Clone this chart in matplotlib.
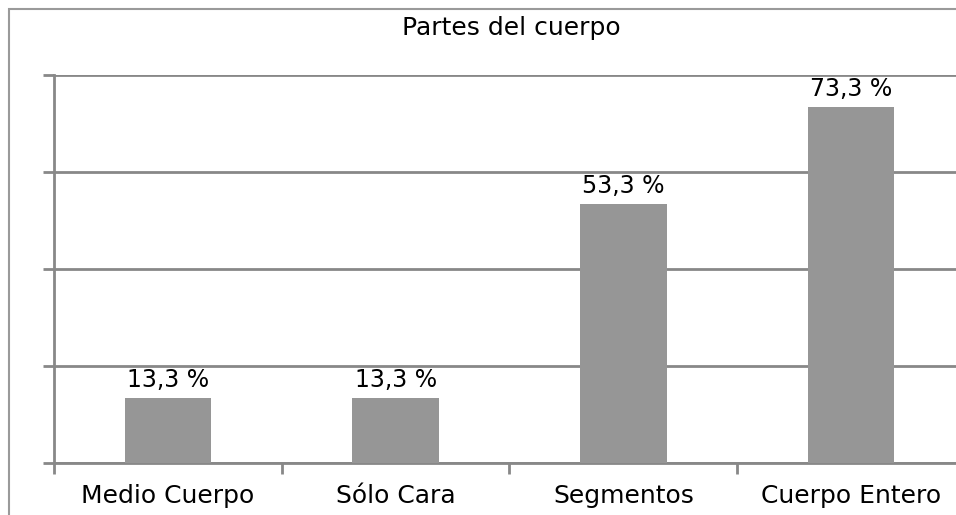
import matplotlib.pyplot as plt
from matplotlib.patches import Rectangle
import numpy as np

categories = ["Medio Cuerpo", "Sólo Cara", "Segmentos", "Cuerpo Entero"]
values = [13.3, 13.3, 53.3, 73.3]
labels = ["13,3 %", "13,3 %", "53,3 %", "73,3 %"]

W, H = 956, 515
fig = plt.figure(figsize=(W / 100, H / 100), dpi=100)

# outer frame (cropped on right/bottom in the reference)
fig.patches.append(Rectangle((9 / W, -0.1), 1.2, 1 - 9 / H + 0.1, transform=fig.transFigure,
                             fill=False, edgecolor="#9a9a9a", linewidth=1.5))

ax = fig.add_axes([54 / W, 1 - 463 / H, 911 / W, (463 - 75) / H])
x = np.arange(len(categories))
ax.bar(x, values, width=0.38, color="#969696", zorder=3)

for xi, v, lab in zip(x, values, labels):
    ax.annotate(lab, (xi, v), xytext=(0, 5), textcoords="offset points",
                ha="center", va="bottom", fontsize=17)

ax.set_xlim(-0.5, len(categories) - 0.5)
ax.set_ylim(0, 80)
ax.set_yticks([0, 20, 40, 60, 80])
ax.set_yticklabels([])
ax.yaxis.grid(True, color="#888888", linewidth=2)
ax.set_axisbelow(True)

ax.set_xticks(x)
ax.set_xticklabels(categories, fontsize=18)
ax.set_xticks(np.arange(-0.5, len(categories)), minor=True)
ax.tick_params(axis="x", which="major", length=0, pad=15)
ax.tick_params(axis="x", which="minor", length=8, width=2, color="#888888")
ax.tick_params(axis="y", length=8, width=2, color="#888888")

for s in ["top", "right"]:
    ax.spines[s].set_visible(False)
for s in ["left", "bottom"]:
    ax.spines[s].set_color("#888888")
    ax.spines[s].set_linewidth(2)

fig.text(511 / W, 1 - 28 / H, "Partes del cuerpo", ha="center", va="center", fontsize=18)

fig.savefig("out.png", dpi=100)
